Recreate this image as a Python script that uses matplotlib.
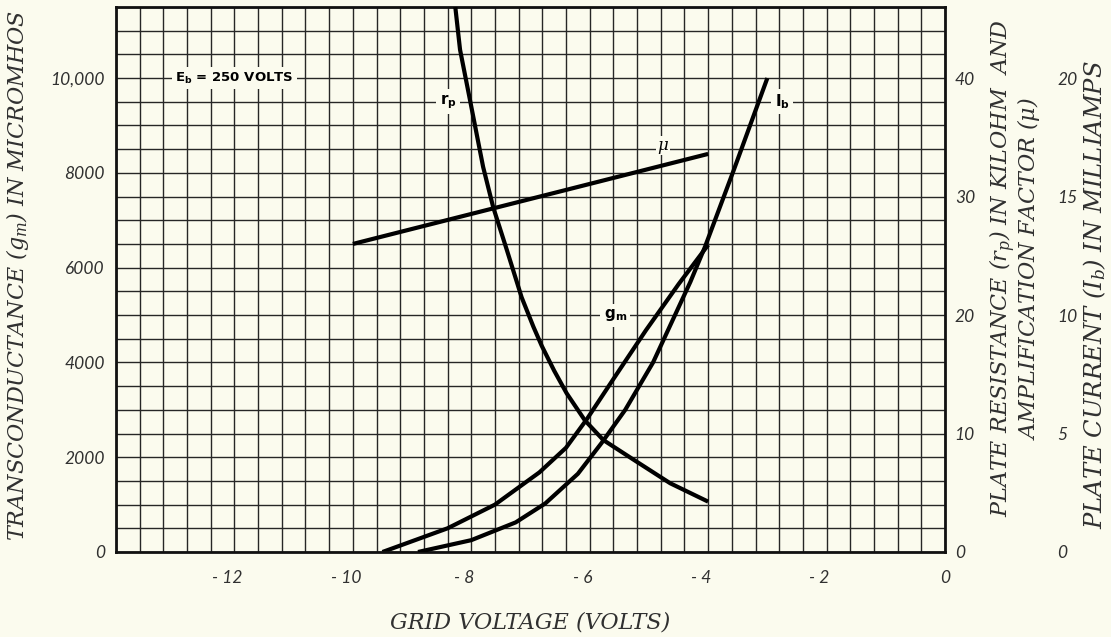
import numpy as np
import matplotlib
matplotlib.use('Agg')
import matplotlib.pyplot as plt
import matplotlib.transforms as mtransforms

# grid voltage axis
x_ticks = [-12, -10, -8, -6, -4, -2, 0]
x_labels = ['- 12', '- 10', '- 8', '- 6', '- 4', '- 2', '0']

# left axis: transconductance (micromhos)
gm_ticks = [0, 2000, 4000, 6000, 8000, 10000]
gm_labels = ['0', '2000', '4000', '6000', '8000', '10,000']

# right axis 1: plate resistance (kilohm) and amplification factor
rp_ticks = [0, 10, 20, 30, 40]
# right axis 2: plate current (mA)
ib_ticks = [0, 5, 10, 15, 20]

# curves
gm_v = [-9.5, -8.4, -7.6, -6.85, -6.4, -6.05, -5.6, -5.05, -4.5, -4.0]
gm = [0, 500, 1000, 1680, 2200, 2800, 3650, 4680, 5650, 6480]

ib_v = [-8.9, -8.0, -7.25, -6.75, -6.2, -5.8, -5.4, -4.93, -4.3, -4.05, -3.57, -3.0]
ib = [0, 0.5, 1.25, 2.05, 3.3, 4.6, 6.0, 8.0, 11.4, 12.9, 16.1, 20.0]

rp_v = [-8.27, -8.19, -8.02, -7.80, -7.63, -7.40, -7.15, -6.95, -6.81, -6.6,
        -6.39, -6.08, -5.77, -5.20, -4.64, -4.0]
rp = [46, 42.4, 38.1, 32.5, 29.1, 25.5, 21.5, 19.0, 17.4, 15.3,
      13.4, 11.1, 9.45, 7.6, 5.8, 4.25]

mu_v = [-10.0, -4.0]
mu = [26.0, 33.6]

bg = '#fbfbee'
ink = '#303030'

plt.rcParams['mathtext.fontset'] = 'custom'
plt.rcParams['mathtext.rm'] = 'DejaVu Serif'
plt.rcParams['mathtext.it'] = 'DejaVu Serif:italic'
plt.rcParams['mathtext.bf'] = 'DejaVu Sans:bold'

fig = plt.figure(figsize=(11.11, 6.37), dpi=100, facecolor=bg)
ax = fig.add_axes([116 / 1111, 85 / 637, 829 / 1111, 545 / 637])
ax.set_facecolor(bg)
ax.set_xlim(-14, 0)
ax.set_ylim(0, 11500)

tick_font = dict(family='Lato', style='italic', size=12.5, color=ink)

ax.set_xticks(x_ticks)
ax.set_xticklabels(x_labels, **tick_font)
ax.set_xticks(np.arange(-14, 0.01, 0.4), minor=True)
ax.set_yticks(gm_ticks)
ax.set_yticklabels(gm_labels, **tick_font)
ax.set_yticks(np.arange(0, 11501, 500), minor=True)
ax.tick_params(which='both', length=0)
ax.tick_params(axis='x', pad=13)
ax.tick_params(axis='y', pad=8)
ax.grid(which='both', color='#262626', lw=1.0)
ax.set_axisbelow(True)
for s in ax.spines.values():
    s.set_linewidth(2.0)
    s.set_color('#111111')

offset = mtransforms.ScaledTranslation(-0.07, 0, fig.dpi_scale_trans)
for lbl in ax.get_xticklabels()[:-1]:
    lbl.set_transform(lbl.get_transform() + offset)

ax2 = ax.twinx()
for s in ax2.spines.values():
    s.set_visible(False)
ax2.set_ylim(0, 46)
ax2.set_yticks(rp_ticks)
ax2.set_yticklabels([str(t) for t in rp_ticks], **tick_font)
ax2.tick_params(length=0, pad=7)

ax3 = ax.twinx()
ax3.spines['right'].set_position(('outward', 73))
for s in ax3.spines.values():
    s.set_visible(False)
ax3.set_ylim(0, 23)
ax3.set_yticks(ib_ticks)
ax3.set_yticklabels([str(t) for t in ib_ticks], **tick_font)
ax3.tick_params(length=0, pad=8)

line_kw = dict(color='black', lw=3.0, solid_capstyle='butt', solid_joinstyle='round')
ax.plot(gm_v, gm, **line_kw)
ax2.plot(rp_v, rp, **line_kw)
ax2.plot(mu_v, mu, **line_kw)
ax3.plot(ib_v, ib, **line_kw)

box = dict(facecolor=bg, edgecolor='none', pad=2.5)
ax.text(-12.0, 10000, r'$\mathbf{E_b}$ = 250 VOLTS', family='DejaVu Sans',
        weight='bold', size=9.5, ha='center', va='center', bbox=box)
ax.text(-8.39, 9500, r'$\mathbf{r}_\mathbf{p}$', size=11, ha='center', va='center', bbox=box)
ax.text(-2.75, 9500, r'$\mathbf{I}_\mathbf{b}$', size=11, ha='center', va='center', bbox=box)
ax.text(-5.57, 5000, r'$\mathbf{g}_\mathbf{m}$', size=11, ha='center', va='center', bbox=box)
ax.text(-4.76, 8580, 'μ', family='DejaVu Serif', style='italic', size=12,
        ha='center', va='center', bbox=dict(facecolor=bg, edgecolor='none', pad=1))

lab = dict(family='DejaVu Serif', style='italic', size=16, color=ink,
           ha='center', va='center')
fig.text(18 / 1111, 1 - 275 / 637, 'TRANSCONDUCTANCE ($g_m$) IN MICROMHOS',
         rotation=90, **lab)
fig.text(1015 / 1111, 1 - 268 / 637,
         'PLATE RESISTANCE ($r_p$) IN KILOHM  AND\nAMPLIFICATION FACTOR ($\\mu$)',
         rotation=90, linespacing=0.88, multialignment='center', **lab)
lab_ib = dict(lab, size=17.5)
fig.text(1095 / 1111, 1 - 295 / 637, 'PLATE CURRENT ($I_b$) IN MILLIAMPS',
         rotation=90, **lab_ib)
fig.text(530 / 1111, 1 - 622 / 637, 'GRID VOLTAGE (VOLTS)', **lab)

fig.savefig('out.png', dpi=100, facecolor=bg)
